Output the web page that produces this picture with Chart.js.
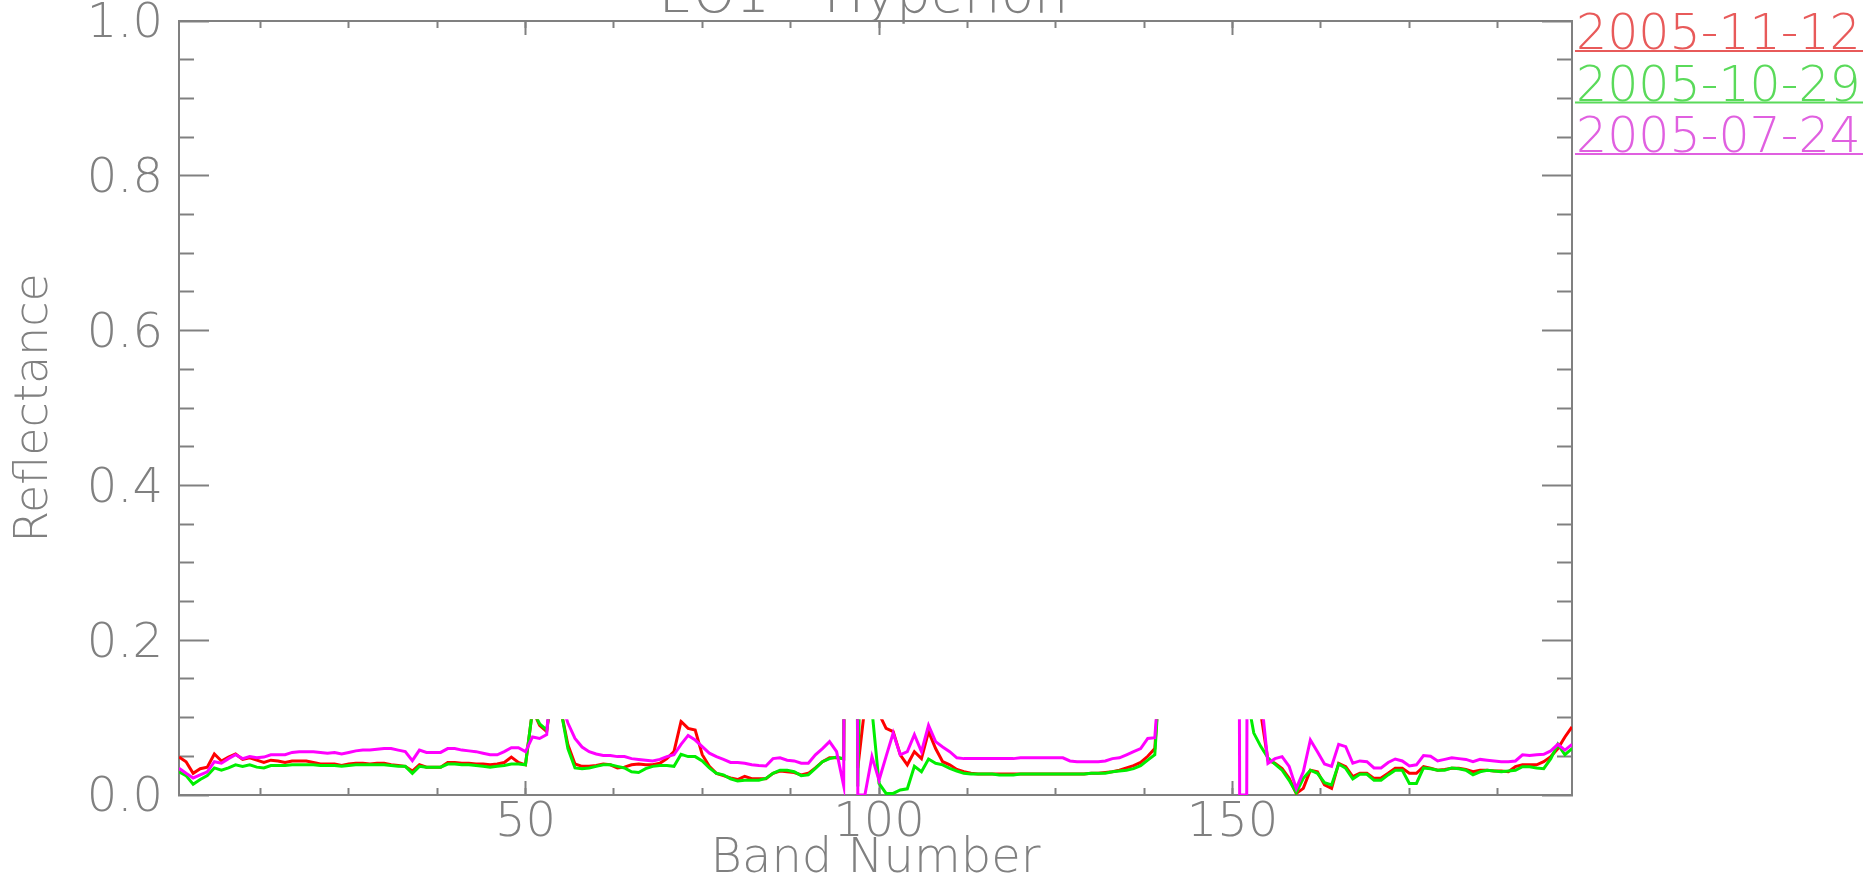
<!DOCTYPE html>
<html>
<head>
<meta charset="utf-8">
<script src="https://cdn.jsdelivr.net/npm/chart.js@4/dist/chart.umd.min.js"></script>
<style>
  html, body { margin: 0; padding: 0; background: #fff; }
  #wrap { width: 1874px; height: 888px; }
</style>
</head>
<body>
<div id="wrap"><canvas id="hyperionChart" width="1874" height="888"></canvas></div>
<script>
// band numbers 1..198 on the x axis
const bands = Array.from({ length: 198 }, (_, i) => i + 1);

const dateLabels = ['2005-11-12', '2005-10-29', '2005-07-24'];

// reflectance (null = no data drawn)
const refl_20051112 = [
  0.049, 0.043, 0.028, 0.034, 0.036, 0.053, 0.044, 0.049, 0.053, 0.046,
  0.048, 0.045, 0.042, 0.045, 0.044, 0.042, 0.044, 0.044, 0.044, 0.042,
  0.040, 0.040, 0.040, 0.038, 0.040, 0.041, 0.041, 0.040, 0.041, 0.041,
  0.039, 0.038, 0.037, 0.031, 0.039, 0.036, 0.036, 0.036, 0.042, 0.042,
  0.041, 0.041, 0.040, 0.040, 0.039, 0.040, 0.042, 0.049, 0.042, 0.039,
  0.110, 0.090, 0.082, 0.150, 0.110, 0.065, 0.040, 0.037, 0.037, 0.038,
  0.040, 0.039, 0.035, 0.036, 0.039, 0.040, 0.039, 0.039, 0.041, 0.047,
  0.056, 0.095, 0.086, 0.084, 0.052, 0.037, 0.028, 0.025, 0.022, 0.020,
  0.024, 0.021, 0.021, 0.021, 0.028, 0.031, 0.030, 0.029, 0.026, 0.028,
  0.035, 0.043, 0.048, 0.048, 0.047, 1.500, 0.035, 0.115, 0.300, 0.105,
  0.086, 0.082, 0.052, 0.039, 0.056, 0.047, 0.082, 0.060, 0.043, 0.039,
  0.033, 0.030, 0.028, 0.027, 0.027, 0.027, 0.027, 0.027, 0.027, 0.027,
  0.027, 0.027, 0.027, 0.027, 0.027, 0.027, 0.027, 0.027, 0.027, 0.028,
  0.028, 0.029, 0.030, 0.032, 0.035, 0.038, 0.042, 0.050, 0.060, 0.200,
  0.400, null, null, null, null, null, null, null, 0.400, 0.300,
  0.300, 0.300, 0.300, 0.105, 0.045, 0.041, 0.034, 0.0215, 0.002, 0.0086,
  0.032, 0.030, 0.013, 0.0086, 0.041, 0.0366, 0.0237, 0.028, 0.028, 0.0215,
  0.022, 0.028, 0.0345, 0.0345, 0.028, 0.028, 0.0366, 0.0345, 0.032, 0.033,
  0.0345, 0.0345, 0.033, 0.030, 0.032, 0.032, 0.031, 0.031, 0.030, 0.0366,
  0.039, 0.039, 0.039, 0.043, 0.0496, 0.060, 0.075, 0.088
];

const refl_20051029 = [
  0.030, 0.025, 0.014, 0.020, 0.025, 0.035, 0.032, 0.035, 0.039, 0.037,
  0.039, 0.036, 0.035, 0.038, 0.038, 0.038, 0.039, 0.039, 0.039, 0.039,
  0.038, 0.038, 0.038, 0.037, 0.038, 0.039, 0.039, 0.039, 0.039, 0.039,
  0.038, 0.037, 0.037, 0.028, 0.037, 0.036, 0.036, 0.036, 0.040, 0.040,
  0.039, 0.039, 0.038, 0.037, 0.036, 0.037, 0.038, 0.040, 0.040, 0.039,
  0.110, 0.092, 0.084, 0.150, 0.110, 0.060, 0.035, 0.034, 0.035, 0.037,
  0.039, 0.039, 0.037, 0.035, 0.030, 0.029, 0.034, 0.037, 0.038, 0.038,
  0.037, 0.0526, 0.0496, 0.0496, 0.044, 0.035, 0.028, 0.026, 0.021, 0.018,
  0.019, 0.019, 0.019, 0.0215, 0.028, 0.032, 0.032, 0.030, 0.025, 0.026,
  0.0345, 0.043, 0.047, 0.049, 0.0465, 1.500, 0.011, 0.500, 0.110, 0.015,
  0.002, 0.002, 0.0065, 0.008, 0.037, 0.030, 0.0465, 0.041, 0.039, 0.0345,
  0.031, 0.028, 0.027, 0.027, 0.027, 0.027, 0.026, 0.026, 0.026, 0.027,
  0.027, 0.027, 0.027, 0.027, 0.027, 0.027, 0.027, 0.027, 0.027, 0.028,
  0.028, 0.028, 0.030, 0.031, 0.032, 0.034, 0.038, 0.045, 0.052, 0.200,
  0.400, null, null, null, null, null, null, null, 0.400, 0.300,
  0.200, 0.130, 0.080, 0.0625, 0.048, 0.040, 0.032, 0.019, 0.003, 0.0215,
  0.032, 0.028, 0.016, 0.013, 0.040, 0.0345, 0.0207, 0.0267, 0.0267, 0.019,
  0.019, 0.026, 0.032, 0.032, 0.015, 0.015, 0.035, 0.034, 0.032, 0.032,
  0.035, 0.034, 0.032, 0.026, 0.030, 0.032, 0.031, 0.030, 0.031, 0.032,
  0.0366, 0.0366, 0.035, 0.034, 0.047, 0.0655, 0.052, 0.060
];

const refl_20050724 = [
  0.0345, 0.028, 0.022, 0.026, 0.030, 0.043, 0.041, 0.047, 0.052, 0.047,
  0.0496, 0.048, 0.049, 0.052, 0.052, 0.052, 0.055, 0.056, 0.056, 0.056,
  0.055, 0.054, 0.055, 0.053, 0.055, 0.057, 0.058, 0.058, 0.059, 0.060,
  0.060, 0.058, 0.056, 0.0444, 0.058, 0.055, 0.055, 0.055, 0.060, 0.060,
  0.058, 0.057, 0.056, 0.054, 0.052, 0.052, 0.056, 0.061, 0.061, 0.056,
  0.075, 0.073, 0.078, 0.200, 0.120, 0.093, 0.073, 0.062, 0.056, 0.053,
  0.051, 0.051, 0.0496, 0.0496, 0.047, 0.046, 0.045, 0.044, 0.046, 0.0496,
  0.052, 0.0655, 0.077, 0.071, 0.0625, 0.054, 0.0496, 0.046, 0.042, 0.042,
  0.041, 0.039, 0.038, 0.0375, 0.047, 0.048, 0.045, 0.044, 0.041, 0.041,
  0.052, 0.060, 0.069, 0.056, 0.012, 3.000, 0.000, 0.000, 0.0495, 0.019,
  0.050, 0.080, 0.052, 0.056, 0.078, 0.056, 0.090, 0.069, 0.062, 0.056,
  0.048, 0.047, 0.047, 0.047, 0.047, 0.047, 0.047, 0.047, 0.047, 0.048,
  0.048, 0.048, 0.048, 0.048, 0.048, 0.048, 0.044, 0.043, 0.043, 0.043,
  0.043, 0.044, 0.047, 0.048, 0.052, 0.056, 0.060, 0.073, 0.074, 0.200,
  0.400, null, null, null, null, null, null, null, 0.400, 3.000,
  0.000, 0.000, 3.000, 0.130, 0.041, 0.047, 0.0496, 0.037, 0.0086, 0.030,
  0.071, 0.056, 0.040, 0.037, 0.0655, 0.0625, 0.041, 0.044, 0.043, 0.035,
  0.035, 0.042, 0.0465, 0.044, 0.0375, 0.039, 0.051, 0.050, 0.044, 0.046,
  0.048, 0.047, 0.046, 0.043, 0.046, 0.045, 0.044, 0.043, 0.043, 0.044,
  0.052, 0.051, 0.052, 0.0526, 0.057, 0.0655, 0.058, 0.0655
];

// tick positions
const xMajorTicks = [50, 100, 150];
const xMinorTicks = [12.5, 25, 37.5, 50, 62.5, 75, 87.5, 100, 112.5, 125, 137.5, 150, 162.5, 175, 187.5];
const yMajorTicks = [0, 0.2, 0.4, 0.6, 0.8, 1.0];
const yMinorTicks = [0.05, 0.1, 0.15, 0.25, 0.3, 0.35, 0.45, 0.5, 0.55, 0.65, 0.7, 0.75, 0.85, 0.9, 0.95];

const CLIP_TOP = 0.098; // the plotted curves are cut off just under 0.1

const GRAY = '#808080';
const FONT = "'DejaVu Sans', sans-serif";
const font = { family: FONT, size: 48, weight: '200' };
const legendColors = ['#e85a5a', '#5ada5a', '#e060e0'];

const setTicks = arr => axis => { axis.ticks = arr.map(v => ({ value: v })); };

function tickAxis(position, ticks, len, size, weight, extra) {
  const horiz = position === 'top' || position === 'bottom';
  return Object.assign({
    type: 'linear',
    position: position,
    weight: weight,
    min: horiz ? 1 : 0,
    max: horiz ? 198 : 1,
    afterBuildTicks: setTicks(ticks),
    afterFit: a => {
      if (horiz) a.height = size; else a.width = size;
      a.paddingTop = a.paddingBottom = a.paddingLeft = a.paddingRight = 0;
    },
    grid: { drawOnChartArea: false, tickLength: -len, tickColor: GRAY, tickWidth: 2 },
    border: { display: false },
    ticks: { display: false }
  }, extra || {});
}

const lowClip = {
  id: 'lowClip',
  beforeDatasetsDraw(chart) {
    const { ctx, chartArea: a, scales } = chart;
    const top = scales.y.getPixelForValue(CLIP_TOP);
    ctx.save();
    ctx.beginPath();
    ctx.rect(a.left, top, a.right - a.left, a.bottom - top + 3);
    ctx.clip();
  },
  afterDatasetsDraw(chart) {
    chart.ctx.restore();
  }
};

const textBits = {
  id: 'textBits',
  afterDraw(chart) {
    const ctx = chart.ctx;
    ctx.save();
    // title, cut off by the top edge
    ctx.font = "200 54px " + FONT;
    ctx.fillStyle = GRAY;
    ctx.textAlign = 'center';
    ctx.textBaseline = 'alphabetic';
    ctx.fillText('EO1 - Hyperion', (chart.chartArea.left + chart.chartArea.right) / 2 - 12, 12);
    // underlined date legend on the right
    ctx.textAlign = 'left';
    ctx.font = "200 49px " + FONT;
    chart.data.datasets.forEach((ds, i) => {
      const base = 49 + i * 51.5;
      ctx.fillStyle = legendColors[i];
      ctx.fillText(ds.label, 1576, base);
      ctx.strokeStyle = legendColors[i];
      ctx.lineWidth = 2;
      ctx.beginPath();
      ctx.moveTo(1575, base + 2);
      ctx.lineTo(1863, base + 2);
      ctx.stroke();
    });
    ctx.restore();
  }
};

const lineStyle = { borderWidth: 3, pointRadius: 0, tension: 0, fill: false, xAxisID: 'x', yAxisID: 'y' };

new Chart(document.getElementById('hyperionChart').getContext('2d'), {
  type: 'line',
  data: {
    labels: bands,
    datasets: [
      Object.assign({ label: dateLabels[0], data: refl_20051112, borderColor: '#ff0000', order: 3 }, lineStyle),
      Object.assign({ label: dateLabels[1], data: refl_20051029, borderColor: '#00ee00', order: 2 }, lineStyle),
      Object.assign({ label: dateLabels[2], data: refl_20050724, borderColor: '#ff00ff', order: 1 }, lineStyle)
    ]
  },
  options: {
    responsive: false,
    animation: false,
    devicePixelRatio: 1,
    layout: { padding: 0 },
    plugins: { legend: { display: false }, tooltip: { enabled: false } },
    scales: {
      x: tickAxis('bottom', xMajorTicks, 14, 93, 1, {
        border: { display: true, color: GRAY, width: 2 },
        ticks: { display: true, font: font, color: GRAY, padding: 14, maxRotation: 0, autoSkip: false },
        title: { display: true, text: 'Band Number', font: font, color: GRAY, padding: { top: 0, bottom: 0 } }
      }),
      xMinor: tickAxis('bottom', xMinorTicks, 7, 0, 0),
      xTop: tickAxis('top', xMajorTicks, 14, 21, 1, { border: { display: true, color: GRAY, width: 2 } }),
      xTopMinor: tickAxis('top', xMinorTicks, 7, 0, 0),
      y: tickAxis('left', yMajorTicks, 30, 179, 1, {
        border: { display: true, color: GRAY, width: 2 },
        ticks: { display: true, font: font, color: GRAY, padding: 46, labelOffset: 4, callback: v => v.toFixed(1) },
        title: { display: true, text: 'Reflectance', font: Object.assign({}, font, { size: 46 }), color: GRAY, padding: { top: 7, bottom: 0 } }
      }),
      yMinor: tickAxis('left', yMinorTicks, 15, 0, 0),
      yRight: tickAxis('right', yMajorTicks, 30, 302, 1, { border: { display: true, color: GRAY, width: 2 } }),
      yRightMinor: tickAxis('right', yMinorTicks, 15, 0, 0)
    }
  },
  plugins: [lowClip, textBits]
});
</script>
</body>
</html>
